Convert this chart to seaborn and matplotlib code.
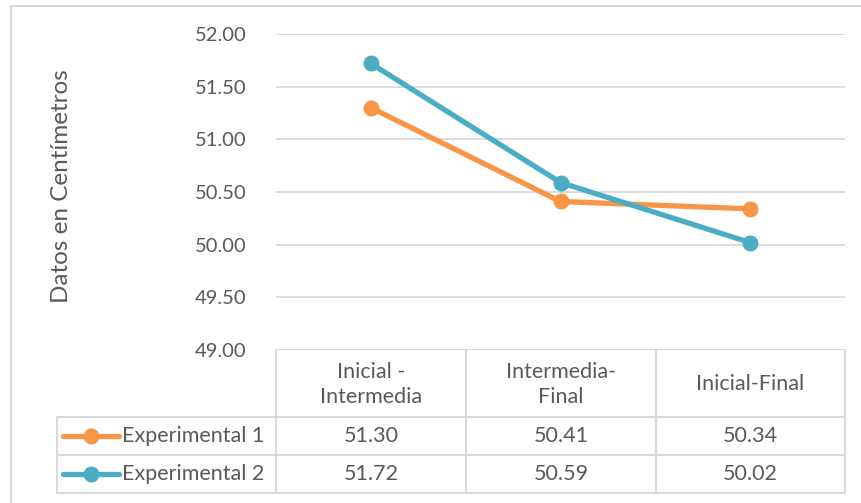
import matplotlib
matplotlib.use("Agg")
import matplotlib.pyplot as plt
from matplotlib.lines import Line2D
from matplotlib.patches import Rectangle
import seaborn as sns
import pandas as pd

# Data
categories = ["Inicial -\nIntermedia", "Intermedia-\nFinal", "Inicial-Final"]
series_names = ["Experimental 1", "Experimental 2"]
exp1 = [51.30, 50.41, 50.34]
exp2 = [51.72, 50.59, 50.02]
y_ticks = [49.00, 49.50, 50.00, 50.50, 51.00, 51.50, 52.00]
colors = ["#F79646", "#4BACC6"]

df = pd.DataFrame({
    "cat": categories * 2,
    "value": exp1 + exp2,
    "serie": [series_names[0]] * 3 + [series_names[1]] * 3,
})

sns.set_theme(style="white")
plt.rcParams["font.family"] = ["Lato", "DejaVu Sans"]
TXT = "#595959"
GRID = "#d9d9d9"
FS_TICK = 14.5
FS_TAB = 15.5
FS_LAB = 17.5

W, H = 862, 503
fig = plt.figure(figsize=(W / 100, H / 100), dpi=100)


def fx(x):
    return x / W


def fy(y):
    return 1 - y / H


# plot area in pixel coordinates
L, R, T, B = 276, 845, 34, 350
ax = fig.add_axes([fx(L), fy(B), (R - L) / W, (B - T) / H])

sns.lineplot(data=df, x="cat", y="value", hue="serie", palette=colors,
             marker="o", markersize=11.5, markeredgewidth=0, linewidth=3.8,
             sort=False, legend=False, ax=ax)

ax.set_xlim(-0.5, 2.5)
ax.set_ylim(49.0, 52.0)
ax.set_yticks(y_ticks)
ax.set_yticklabels([f"{v:.2f}" for v in y_ticks])
ax.set_xticks([])
ax.set_xlabel("")
ax.set_ylabel("")
ax.yaxis.grid(True, color=GRID, linewidth=1.3)
ax.set_axisbelow(True)
for s in ax.spines.values():
    s.set_visible(False)
ax.tick_params(axis="y", length=0, pad=21, labelsize=FS_TICK, labelcolor=TXT)

fig.text(fx(62), fy(186), "Datos en Centímetros", rotation=90, ha="center",
         va="center", fontsize=FS_LAB, color=TXT)

# outer chart border
fig.add_artist(Rectangle((fx(11), fy(520)), fx(870), (520 - 6) / H,
                         fill=False, edgecolor=GRID, linewidth=1.5,
                         transform=fig.transFigure))

# data table grid
col_x = [276, 466, 656, 845]
row_y = [350, 417, 455, 493]
tl = 57


def hline(x0, x1, y):
    fig.add_artist(Line2D([fx(x0), fx(x1)], [fy(y), fy(y)], color=GRID,
                          linewidth=1.5, transform=fig.transFigure))


def vline(x, y0, y1):
    fig.add_artist(Line2D([fx(x), fx(x)], [fy(y0), fy(y1)], color=GRID,
                          linewidth=1.5, transform=fig.transFigure))


for y in row_y[1:]:
    hline(tl, col_x[-1], y)
for x in col_x:
    vline(x, row_y[0], row_y[-1])
vline(tl, row_y[1], row_y[-1])

# header cells
for i, c in enumerate(categories):
    cx = (col_x[i] + col_x[i + 1]) / 2
    fig.text(fx(cx), fy((row_y[0] + row_y[1]) / 2 + 1), c, ha="center",
             va="center", fontsize=FS_TAB, color=TXT, linespacing=1.3)

# data rows with legend keys
for r, (name, vals, col) in enumerate(zip(series_names, [exp1, exp2], colors)):
    cy = (row_y[r + 1] + row_y[r + 2]) / 2
    fig.add_artist(Line2D([fx(63), fx(119)], [fy(cy), fy(cy)], color=col,
                          linewidth=3.8, transform=fig.transFigure))
    fig.add_artist(Line2D([fx(91)], [fy(cy)], color=col, marker="o",
                          markersize=11.5, markeredgewidth=0,
                          transform=fig.transFigure))
    fig.text(fx(122), fy(cy), name, ha="left", va="center", fontsize=FS_TAB,
             color=TXT)
    for i, v in enumerate(vals):
        cx = (col_x[i] + col_x[i + 1]) / 2
        fig.text(fx(cx), fy(cy), f"{v:.2f}", ha="center", va="center",
                 fontsize=FS_TAB, color=TXT)

fig.savefig("out.png", dpi=100, facecolor="white")
